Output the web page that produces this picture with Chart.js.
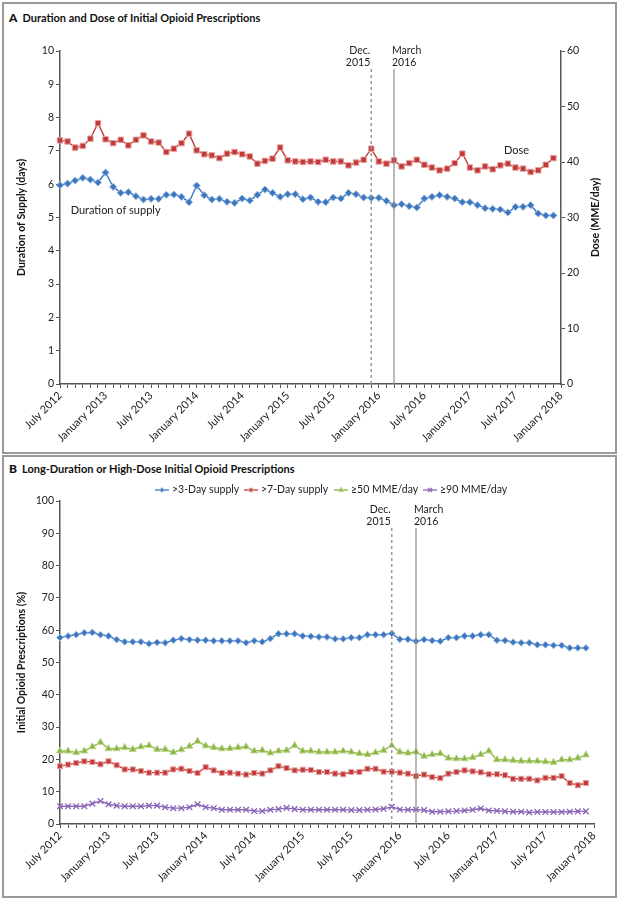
<!DOCTYPE html>
<html lang="en">
<head>
<meta charset="UTF-8">
<title>Initial Opioid Prescriptions</title>
<script src="https://cdn.jsdelivr.net/npm/chart.js"></script>
<style>
  body { margin: 0; width: 620px; height: 900px; background: #fff; position: relative; font-family: Lato, "Noto Sans", sans-serif; }
  .panel { position: absolute; left: 2px; width: 615px; border: 2px solid #999; box-sizing: border-box; }
  .title { position: absolute; left: 9px; font-size: 11px; font-weight: 700; color: #111; white-space: nowrap; }
  .title b { font-size: 12px; margin-right: 5px; }
  canvas { position: absolute; left: 3px; }
</style>
</head>
<body>
<div class="panel" style="top:2px;height:452px"></div>
<div class="panel" style="top:455px;height:443px"></div>
<div class="title" style="top:10px"><b>A</b>Duration and Dose of Initial Opioid Prescriptions</div>
<div class="title" style="top:461px"><b>B</b>Long-Duration or High-Dose Initial Opioid Prescriptions</div>
<canvas id="chartA" width="612" height="428" style="top:24px"></canvas>
<canvas id="chartB" width="612" height="420" style="top:476px"></canvas>

<script>
// months July 2012 .. January 2018
const monthNames = ["January", "February", "March", "April", "May", "June", "July",
    "August", "September", "October", "November", "December"];
const months = [];
for (let i = 0; i < 67; i++) {
    const m = (6 + i) % 12;
    const y = 2012 + Math.floor((6 + i) / 12);
    months.push(monthNames[m] + " " + y);
}
const tickLabels = ["July 2012", "January 2013", "July 2013", "January 2014", "July 2014", "January 2015",
    "July 2015", "January 2016", "July 2016", "January 2017", "July 2017", "January 2018"];

// panel A
const durationDays = [5.97, 6.02, 6.11, 6.19, 6.14, 6.05, 6.35, 5.92, 5.74, 5.76,
    5.64, 5.54, 5.56, 5.56, 5.68, 5.69, 5.62, 5.46, 5.96, 5.67,
    5.54, 5.56, 5.47, 5.44, 5.57, 5.51, 5.68, 5.84, 5.74, 5.62,
    5.70, 5.70, 5.55, 5.60, 5.47, 5.46, 5.60, 5.57, 5.74, 5.70,
    5.60, 5.59, 5.59, 5.50, 5.37, 5.40, 5.34, 5.30, 5.57, 5.62,
    5.67, 5.62, 5.57, 5.46, 5.46, 5.37, 5.28, 5.26, 5.24, 5.15,
    5.32, 5.32, 5.37, 5.12, 5.06, 5.06];
const doseMME = [43.9, 43.7, 42.6, 42.9, 44.2, 47.0, 44.1, 43.4, 44.0, 43.0,
    44.0, 44.8, 43.7, 43.5, 41.8, 42.4, 43.4, 45.1, 42.1, 41.4,
    41.2, 40.7, 41.5, 41.8, 41.4, 41.0, 39.7, 40.2, 40.6, 42.6,
    40.3, 40.1, 40.0, 40.1, 40.0, 40.4, 40.1, 40.1, 39.4, 39.9,
    40.4, 42.4, 40.1, 39.7, 40.3, 39.2, 39.8, 40.4, 39.5, 39.0,
    38.5, 38.8, 39.8, 41.5, 39.0, 38.5, 39.2, 38.7, 39.4, 39.7,
    39.0, 38.8, 38.2, 38.5, 39.5, 40.7];

// panel B (% of initial prescriptions)
const over3Day = [57.7, 58.2, 58.6, 59.2, 59.3, 58.6, 58.2, 57.1, 56.4, 56.4,
    56.4, 55.8, 56.2, 56.1, 56.9, 57.4, 57.1, 56.9, 56.9, 56.7,
    56.7, 56.7, 56.7, 56.1, 56.7, 56.4, 57.4, 58.9, 58.9, 58.9,
    58.2, 58.1, 57.9, 57.9, 57.3, 57.3, 57.7, 57.7, 58.6, 58.6,
    58.6, 59.0, 57.2, 57.2, 56.6, 57.1, 56.8, 56.6, 57.7, 57.7,
    58.2, 58.2, 58.6, 58.6, 56.9, 56.8, 56.3, 56.1, 56.1, 55.5,
    55.5, 55.3, 55.3, 54.5, 54.5, 54.5];
const over7Day = [17.9, 18.4, 18.9, 19.4, 19.2, 18.5, 19.4, 18.2, 16.9, 16.9,
    16.4, 15.9, 15.9, 15.9, 16.9, 17.1, 16.4, 15.8, 17.6, 16.6,
    15.8, 15.9, 15.6, 15.3, 15.8, 15.6, 16.6, 17.9, 17.3, 16.6,
    16.8, 16.7, 16.1, 16.1, 15.6, 15.4, 16.1, 16.1, 17.1, 17.1,
    16.2, 16.2, 15.9, 15.6, 14.8, 15.3, 14.5, 14.2, 15.6, 16.1,
    16.6, 16.3, 16.0, 15.4, 15.4, 15.1, 14.0, 14.0, 14.0, 13.5,
    14.3, 14.3, 14.8, 12.7, 12.0, 12.7];
const atLeast50 = [22.6, 22.6, 22.1, 22.6, 23.9, 25.3, 23.3, 23.3, 23.7, 23.1,
    23.9, 24.3, 23.1, 23.1, 22.2, 23.0, 24.1, 25.6, 24.2, 23.7,
    23.3, 23.4, 23.7, 23.9, 22.6, 22.8, 22.0, 22.6, 22.8, 24.3,
    22.6, 22.6, 22.3, 22.3, 22.3, 22.6, 22.3, 21.8, 21.5, 22.1,
    22.8, 24.3, 22.3, 22.0, 22.3, 21.0, 21.5, 21.8, 20.4, 20.2,
    20.2, 20.6, 21.5, 22.6, 19.9, 19.9, 19.7, 19.5, 19.5, 19.5,
    19.3, 19.1, 19.9, 19.9, 20.4, 21.4];
const atLeast90 = [5.5, 5.5, 5.5, 5.5, 6.3, 7.1, 6.1, 5.7, 5.5, 5.5,
    5.5, 5.7, 5.7, 5.2, 4.9, 4.9, 5.2, 6.1, 5.2, 4.9,
    4.4, 4.4, 4.4, 4.4, 4.0, 4.0, 4.4, 4.6, 5.0, 4.6,
    4.4, 4.4, 4.4, 4.4, 4.4, 4.4, 4.3, 4.3, 4.4, 4.5,
    4.7, 5.3, 4.5, 4.4, 4.5, 4.3, 3.8, 3.8, 3.9, 4.0,
    4.2, 4.4, 4.8, 4.2, 4.1, 3.9, 3.8, 3.8, 3.6, 3.7,
    3.7, 3.7, 3.7, 3.8, 3.9, 3.9];

// Dec. 2015 and March 2016 markers (category index)
const decIndex = months.indexOf("December 2015");
const marIndex = months.indexOf("March 2016");

const FONT = "Lato, 'Noto Sans', sans-serif";
const AXIS = "#555";

function xAxis(h) {
    return {
        type: "category",
        offset: false,
        grid: { drawOnChartArea: false, drawTicks: true, tickLength: 4, color: AXIS, tickWidth: 1 },
        border: { color: AXIS, width: 1.5 },
        ticks: {
            autoSkip: false, maxRotation: 45, minRotation: 45, padding: 1,
            color: "#222", font: { family: FONT, size: 11 },
            callback: (v, i) => tickLabels.includes(months[i]) ? months[i] : ""
        },
        afterFit: s => { s.height = h; }
    };
}

function yAxis(pos, max, step, width, title) {
    return {
        position: pos, min: 0, max: max,
        grid: { drawOnChartArea: false, drawTicks: true, tickLength: 4, color: AXIS },
        border: { color: AXIS, width: 1.5 },
        ticks: { stepSize: step, padding: 2, color: "#222", font: { family: FONT, size: 10.5 } },
        title: title ? { display: true, text: title, color: "#111", padding: { top: 12 },
            font: { family: FONT, size: 10.5, weight: "bold" } } : { display: false },
        afterFit: s => { s.width = width; }
    };
}

// vertical reference lines + notes
const markerPlugin = {
    id: "markers",
    afterDatasetsDraw(chart, args, o) {
        const ctx = chart.ctx;
        const x = chart.scales.x;
        const bottom = chart.chartArea.bottom;
        const xd = x.getPixelForValue(decIndex), xm = x.getPixelForValue(marIndex);
        ctx.save();
        ctx.strokeStyle = "#999";
        ctx.lineWidth = 1.5;
        ctx.setLineDash([3, 3]);
        ctx.beginPath(); ctx.moveTo(xd, o.lineTop); ctx.lineTo(xd, bottom); ctx.stroke();
        ctx.setLineDash([]);
        ctx.strokeStyle = "#8a8a8a";
        ctx.lineWidth = 1.2;
        ctx.beginPath(); ctx.moveTo(xm, o.lineTop); ctx.lineTo(xm, bottom); ctx.stroke();
        ctx.fillStyle = "#222";
        ctx.font = "10.5px " + FONT;
        ctx.textBaseline = "middle";
        ctx.textAlign = "right";
        ctx.fillText("Dec.", xd - 1, o.textTop);
        ctx.fillText("2015", xd - 1, o.textTop + 12);
        ctx.textAlign = "left";
        ctx.fillText("March", xm - 2, o.textTop);
        ctx.fillText("2016", xm - 2, o.textTop + 12);
        ctx.restore();
    }
};

const notesA = {
    id: "notesA",
    afterDraw(chart) {
        const ctx = chart.ctx, x = chart.scales.x, y = chart.scales.y, y1 = chart.scales.y1;
        ctx.save();
        ctx.fillStyle = "#222";
        ctx.font = "11px " + FONT;
        ctx.textBaseline = "middle";
        ctx.textAlign = "left";
        ctx.fillText("Duration of supply", x.getPixelForValue(1.4), y.getPixelForValue(5.22));
        ctx.fillText("Dose", x.getPixelForValue(58.5), y1.getPixelForValue(42.1));
        // right axis title, reading bottom to top
        const ca = chart.chartArea;
        ctx.translate(y1.right - 19, (ca.top + ca.bottom) / 2);
        ctx.rotate(-Math.PI / 2);
        ctx.textAlign = "center";
        ctx.fillStyle = "#111";
        ctx.font = "bold 10.5px " + FONT;
        ctx.fillText("Dose (MME/day)", 0, 0);
        ctx.restore();
    }
};

const legendB = {
    id: "legendB",
    afterDraw(chart, args, o) {
        const ctx = chart.ctx;
        ctx.save();
        chart.data.datasets.forEach((ds, i) => {
            const cx = o.xs[i], cy = o.y;
            ctx.strokeStyle = ds.borderColor;
            ctx.lineWidth = 1.3;
            ctx.beginPath(); ctx.moveTo(cx - 7, cy); ctx.lineTo(cx + 7, cy); ctx.stroke();
            ctx.fillStyle = ds.pointBackgroundColor;
            ctx.strokeStyle = ds.pointBorderColor;
            ctx.lineWidth = ds.pointBorderWidth;
            Chart.helpers.drawPoint(ctx, { pointStyle: ds.pointStyle, radius: ds.pointRadius * 0.7,
                borderWidth: ds.pointBorderWidth }, cx, cy);
            ctx.fillStyle = "#222";
            ctx.font = "10.5px " + FONT;
            ctx.textBaseline = "middle";
            ctx.textAlign = "left";
            ctx.fillText(ds.label, cx + 10, cy);
        });
        ctx.restore();
    }
};

const BLUE = "#3b76be", RED = "#c2393a", GREEN = "#8ab440", PURPLE = "#8a64b6";

function series(label, data, color, halo, style, r, axis) {
    return {
        label: label, data: data, yAxisID: axis || "y",
        borderColor: color, borderWidth: 1.4, tension: 0,
        pointStyle: style, pointRadius: r,
        pointBackgroundColor: color,
        pointBorderColor: halo, pointBorderWidth: style === "crossRot" ? 1.3 : 1
    };
}

new Chart(document.getElementById("chartA"), {
    type: "line",
    data: {
        labels: months,
        datasets: [
            series("Duration of supply", durationDays, BLUE, "#9bbbe3", "rectRot", 3.6, "y"),
            series("Dose", doseMME, RED, "#e6a5a2", "rect", 3.9, "y1")
        ]
    },
    options: {
        responsive: false, animation: false,
        layout: { padding: { top: 27, left: 0, right: 0, bottom: 0 } },
        plugins: {
            legend: { display: false }, tooltip: { enabled: false },
            markers: { lineTop: 69 - 24, textTop: 51 - 24 }
        },
        scales: {
            x: xAxis(68),
            y: yAxis("left", 10, 1, 57, "Duration of Supply (days)"),
            y1: yAxis("right", 60, 10, 54, null)
        }
    },
    plugins: [markerPlugin, notesA]
});

new Chart(document.getElementById("chartB"), {
    type: "line",
    data: {
        labels: months,
        datasets: [
            series(">3-Day supply", over3Day, BLUE, "#9bbbe3", "rectRot", 3.4),
            series(">7-Day supply", over7Day, RED, "#e6a5a2", "rect", 3.6),
            series("\u226550 MME/day", atLeast50, GREEN, "#bdd68d", "triangle", 4),
            series("\u226590 MME/day", atLeast90, PURPLE, PURPLE, "crossRot", 4)
        ]
    },
    options: {
        responsive: false, animation: false,
        layout: { padding: { top: 25, left: 0, right: 21, bottom: 0 } },
        plugins: {
            legend: { display: false }, tooltip: { enabled: false },
            markers: { lineTop: 528 - 476, textTop: 510 - 476 },
            legendB: { y: 490 - 476, xs: [159, 248, 338, 427] }
        },
        scales: {
            x: xAxis(72),
            y: yAxis("left", 100, 10, 57, "Initial Opioid Prescriptions (%)")
        }
    },
    plugins: [markerPlugin, legendB]
});
</script>
</body>
</html>
